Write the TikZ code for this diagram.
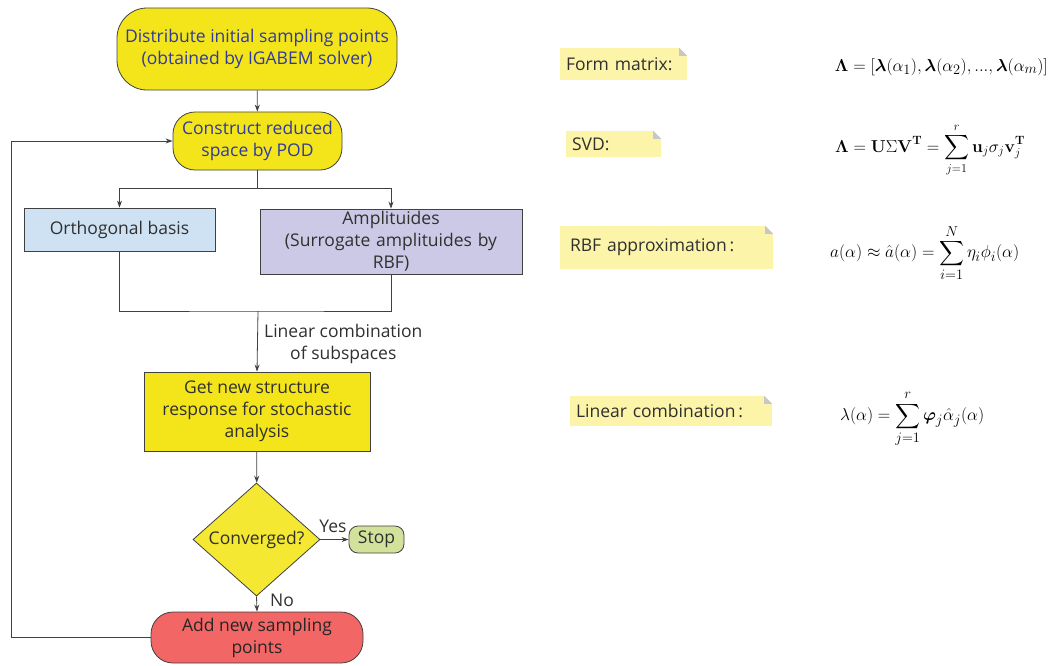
\documentclass[tikz,border=0pt]{standalone}
\usepackage{amsmath,bm}
\usepackage[no-math]{fontspec}
\setmainfont{Open Sans}
\usetikzlibrary{shapes.geometric,arrows.meta}
\definecolor{ylw}{HTML}{F4E51B}
\definecolor{lblue}{HTML}{CFE2F3}
\definecolor{lav}{HTML}{CCC9E6}
\definecolor{lgreen}{HTML}{D3E29B}
\definecolor{lred}{HTML}{F26666}
\definecolor{notey}{HTML}{FCF4A8}
\definecolor{edgec}{HTML}{404040}
\definecolor{txtc}{HTML}{303030}
\definecolor{bluet}{HTML}{2E3A9E}
\tikzset{
  box/.style={draw=edgec, line width=0.8pt, align=center, inner sep=2pt, text=txtc,
     font=\fontsize{17.5}{22}\selectfont},
  rbox/.style={box, rounded corners=#1},
  arr/.style={draw=edgec, line width=0.8pt, -{Stealth[length=7pt,width=5pt]}},
  ln/.style={draw=edgec, line width=0.8pt},
  notebox/.style={fill=notey, inner xsep=6pt, inner ysep=0pt, align=left, text=txtc,
     font=\fontsize{17.5}{22}\selectfont},
  lbl/.style={text=txtc, font=\fontsize{17.5}{22}\selectfont, align=center, inner sep=0pt},
  fml/.style={inner sep=0pt, font=\fontsize{19}{22}\selectfont},
}
\newcommand{\myfold}[1]{%
  \fill[white] ([xshift=-8pt]#1.north east) -- (#1.north east) -- ([yshift=-8pt]#1.north east) -- cycle;
  \fill[black!22] ([xshift=-8pt]#1.north east) -- ([xshift=-8pt,yshift=-8pt]#1.north east) -- ([yshift=-8pt]#1.north east) -- cycle;}
\begin{document}
\begin{tikzpicture}[x=1pt,y=-1pt]
\useasboundingbox (0,0) rectangle (1054,665);
% flowchart nodes
\node[rbox=30pt, fill=ylw, text=bluet, minimum width=280pt, minimum height=82pt] (dist) at (257,49)
  {Distribute initial sampling points\\(obtained by IGABEM solver)};
\node[rbox=22pt, fill=ylw, text=bluet, minimum width=169pt, minimum height=58pt] (cons) at (257.5,141)
  {Construct reduced\\space by POD};
\node[box, fill=lblue, minimum width=191pt, minimum height=43pt] (orth) at (119.5,229.5) {Orthogonal basis};
\node[box, fill=lav, minimum width=262pt, minimum height=65pt, text width=250pt] (amp) at (391,241.5)
  {Amplituides\\(Surrogate amplituides by\\RBF)};
\node[box, fill=ylw, minimum width=226pt, minimum height=79pt] (get) at (257,411.5)
  {Get new structure\\response for stochastic\\analysis};
\node[box, diamond, fill=ylw!90!white, minimum width=127pt, minimum height=103pt, inner sep=0pt] (conv) at (256.5,539.5)
  {Converged?};
\node[rbox=9pt, fill=lgreen, minimum width=55pt, minimum height=27pt, inner sep=0pt] (stop) at (376.5,539.5) {Stop};
\node[rbox=22pt, fill=lred, text=black!85, minimum width=212pt, minimum height=51pt] (add) at (257,637.5)
  {Add new sampling\\points};
% connectors
\draw[arr] (dist) -- (cons);
\coordinate (br) at (257.5,188);
\draw[ln] (cons.south) -- (br);
\draw[arr] (br) -| (orth.north);
\draw[arr] (br) -| (amp.north);
\coordinate (mg) at (258,311);
\draw[ln] (orth.south) |- (mg) -| (amp.south);
\draw[arr] (mg) -- (get.north);
\node[lbl, anchor=north west] (lc) at (264,324) {Linear combination\\of subspaces};
\draw[arr] (get) -- (conv);
\draw[arr] (conv.east) -- (stop.west);
\node[lbl, anchor=south] (yes) at (333,533) {Yes};
\draw[arr] (conv.south) -- (add.north);
\node[lbl, anchor=west] (no) at (270,600) {No};
\coordinate (lpb) at (11,637.5);
\coordinate (lpt) at (11,141);
\draw[arr] (add.west) -- (lpb) -- (lpt) -- (cons.west);
% notes
\node[notebox, minimum width=127pt, minimum height=32pt, text width=115pt] (n1) at (623.5,64) {Form matrix:};
\myfold{n1}
\node[notebox, minimum width=95pt, minimum height=26pt, text width=83pt] (n2) at (613.5,144) {SVD:};
\myfold{n2}
\node[notebox, minimum width=205pt, minimum height=43pt, text width=193pt, inner xsep=10pt] (n3) at (666.5,247.5) {RBF approximation\,:};
\myfold{n3}
\node[notebox, minimum width=202pt, minimum height=30pt, text width=190pt] (n4) at (671,411) {Linear combination\,:};
\myfold{n4}
% formulas
\node[fml, anchor=east] (f1) at (1048,67)
  {$\mathbf{\Lambda}=[\bm{\lambda}(\alpha_1),\bm{\lambda}(\alpha_2),...,\bm{\lambda}(\alpha_m)]$};
\node[fml, anchor=west, font=\fontsize{18}{22}\selectfont] (f2) at (835,150)
  {$\displaystyle \mathbf{\Lambda}=\mathbf{U}\Sigma\mathbf{V}^{\mathbf{T}}=\sum_{j=1}^{r}\mathbf{u}_j\sigma_j\mathbf{v}_j^{\mathbf{T}}$};
\node[fml, anchor=west] (f3) at (830,253)
  {$\displaystyle a(\alpha)\approx\hat{a}(\alpha)=\sum_{i=1}^{N}\eta_i\phi_i(\alpha)$};
\node[fml, anchor=west] (f4) at (840,419)
  {$\displaystyle \lambda(\alpha)=\sum_{j=1}^{r}\bm{\varphi}_j\hat{\alpha}_j(\alpha)$};
\end{tikzpicture}
\end{document}
